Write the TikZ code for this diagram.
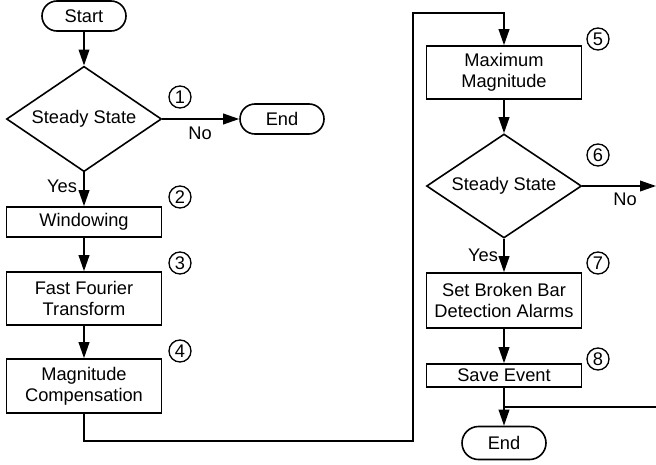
\documentclass[tikz,border=0pt]{standalone}
\usepackage{fontspec}
\setmainfont{Liberation Sans}
\usetikzlibrary{shapes.geometric, shapes.misc, arrows.meta}

\tikzset{
	every node/.style={font=\fontsize{13.7}{16}\selectfont},
	term/.style={draw, rounded rectangle, line width=1.2pt, minimum width=63pt, minimum height=22.5pt, inner sep=0pt},
	proc/.style={draw, rectangle, line width=1.2pt, minimum width=116.25pt, align=center, inner sep=0pt},
	test/.style={draw, diamond, aspect=1.46, line width=1.2pt, minimum width=116.25pt, minimum height=79pt, inner sep=0pt},
	num/.style={draw, circle, line width=1pt, minimum size=16.5pt, inner sep=0pt},
	arr/.style={-{Triangle[length=12pt, width=8pt]}, line width=1.2pt},
}

\begin{document}
\begin{tikzpicture}[x=0.75pt, y=-0.75pt]
			\useasboundingbox (0,0) rectangle (656,464);

			% Left column
			\node[term] (start) at (84,16) {Start};
			\node[test] (ssa) at (84,119) {Steady State};
			\node[term] (enda) at (282,119) {End};
			\node[proc, minimum height=22.5pt] (win) at (84,222) {Windowing};
			\node[proc, minimum height=39.75pt] (fft) at (84,298.5) {Fast Fourier\\Transform};
			\node[proc, minimum height=40.5pt] (magc) at (84,386) {Magnitude\\Compensation};

			% Right column
			\node[proc, minimum height=39.75pt] (maxm) at (504,72.5) {Maximum\\Magnitude};
			\node[test, minimum height=78pt] (ssb) at (504,186) {Steady State};
			\node[proc, minimum height=41.25pt] (alarm) at (504,300.5) {Set Broken Bar\\Detection Alarms};
			\node[proc, minimum height=17.25pt] (save) at (504,375.5) {Save Event};
			\node[term, minimum height=24.75pt] (endb) at (504,443) {End};

			% Step numbers
			\foreach \n/\x/\y in {1/180/97, 2/180/197, 3/180/263, 4/180/351, 5/598/39, 6/598/155, 7/598/263, 8/598/359}
			\node[num] (c\n) at (\x,\y) {\n};

			% Branch labels
			\node (noa) at (200,133) {No};
			\node (yesa) at (62,186) {Yes};
			\node (nob) at (625,199) {No};
			\node (yesb) at (483,255) {Yes};

			% Free ends and bends
			\coordinate (jmpb) at (413,441);
			\coordinate (jmpt) at (413,13);
			\coordinate (outb) at (656,186);
			\coordinate (inb) at (656,407);

			% Draw flow
			\draw[arr] (start) -- (ssa);
			\draw[arr] (ssa.east) -- (enda.west);
			\draw[arr] (ssa.south) -- (win.north);
			\draw[arr] (win) -- (fft);
			\draw[arr] (fft) -- (magc);
			\draw[arr] (magc.south) |- (jmpb) -- (jmpt) -| (maxm.north);
			\draw[arr] (maxm) -- (ssb.north);
			\draw[arr] (ssb.east) -- (outb);
			\draw[arr] (ssb.south) -- (alarm.north);
			\draw[arr] (alarm) -- (save);
			\draw[arr] (save) -- (endb);
			\draw[line width=1.2pt] (inb) -- (save.south |- inb);
		\end{tikzpicture}
\end{document}
